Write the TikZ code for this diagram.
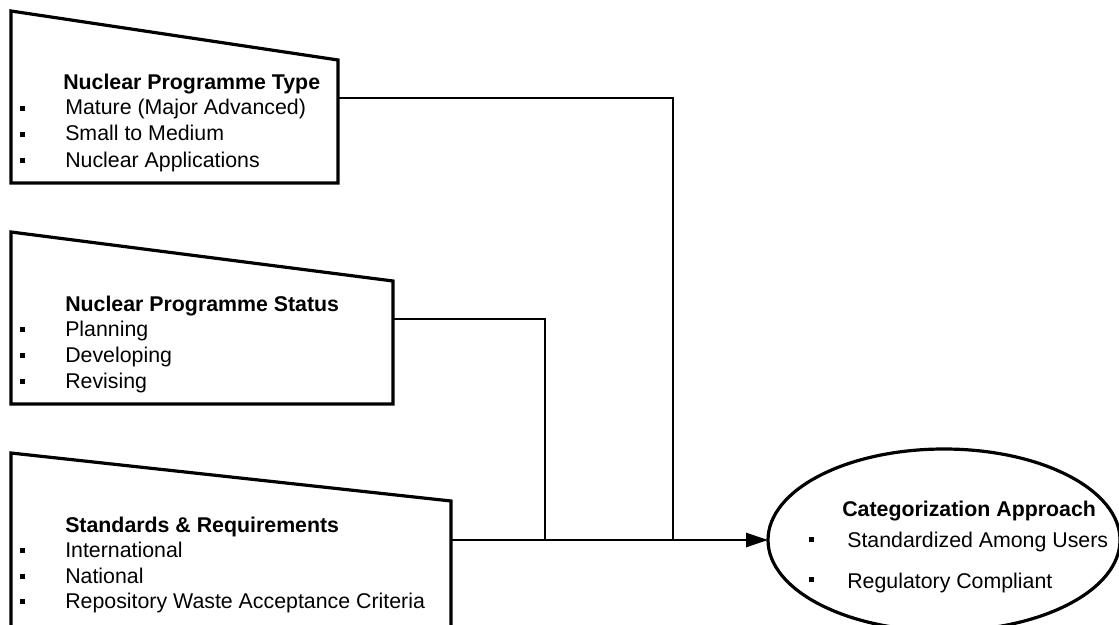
\documentclass[tikz,border=0pt]{standalone}
\usepackage{fontspec}
\setmainfont{Liberation Sans}
\usetikzlibrary{shapes.geometric,arrows.meta}
\begin{document}
\begin{tikzpicture}[x=0.75pt,y=-0.75pt,
  box/.style={draw,line width=2.4pt,line join=miter},
  conn/.style={draw,line width=2.2pt},
  ttl/.style={anchor=base west,inner sep=0,font=\fontsize{16}{19}\selectfont\bfseries},
  itm/.style={anchor=base west,inner sep=0,font=\fontsize{16}{19}\selectfont},
  bul/.style={fill,inner sep=0,minimum width=3.6pt,minimum height=3.6pt},
  ebul/.style={fill,inner sep=0,minimum width=4pt,minimum height=3.8pt},
]
\useasboundingbox (0,0) rectangle (1119,624);

% Box 1
\draw[box] (11,11) -- (338,60) -- (338,183) -- (11,183) -- cycle;
\coordinate (b1) at (338,98);
\node[ttl] (t1) at (63,90) {Nuclear Programme Type};
\node[itm] (i11) at (65,115) {Mature (Major Advanced)};
\node[itm] (i12) at (65,141) {Small to Medium};
\node[itm] (i13) at (65,167) {Nuclear Applications};
\node[bul] (d11) at (22.5,108.5) {};
\node[bul] (d12) at (22.5,134.5) {};
\node[bul] (d13) at (22.5,160.5) {};

% Box 2
\draw[box] (11,232) -- (393,281) -- (393,404) -- (11,404) -- cycle;
\coordinate (b2) at (393,319);
\node[ttl] (t2) at (65,311) {Nuclear Programme Status};
\node[itm] (i21) at (65,336) {Planning};
\node[itm] (i22) at (65,362) {Developing};
\node[itm] (i23) at (65,388) {Revising};
\node[bul] (d21) at (22.5,329.5) {};
\node[bul] (d22) at (22.5,355.5) {};
\node[bul] (d23) at (22.5,381.5) {};

% Box 3
\draw[box] (11,453) -- (451,501) -- (451,627) -- (11,627) -- cycle;
\coordinate (b3) at (451,540);
\node[ttl] (t3) at (65,532) {Standards \& Requirements};
\node[itm] (i31) at (65,557) {International};
\node[itm] (i32) at (65,583) {National};
\node[itm] (i33) at (65,608) {Repository Waste Acceptance Criteria};
\node[bul] (d31) at (22.5,550.5) {};
\node[bul] (d32) at (22.5,576.5) {};
\node[bul] (d33) at (22.5,601.5) {};

% Ellipse
\node[draw,ellipse,line width=2.4pt,inner sep=0,outer sep=0,
      minimum width=264pt,minimum height=136.5pt] (cat) at (944,540) {};
\node[ttl] (ct) at (842,516) {Categorization Approach};
\node[itm] (c1) at (847,547) {Standardized Among Users};
\node[itm] (c2) at (847,588) {Regulatory Compliant};
\node[ebul] (e1) at (811.5,539.5) {};
\node[ebul] (e2) at (811.5,579.5) {};

% Connectors
\coordinate (j1) at (673,540);
\coordinate (j2) at (545,540);
\draw[conn] (b1) -| (j1);
\draw[conn] (b2) -| (j2);
\draw[conn,-{Triangle[length=16.5pt,width=10.5pt]}] (b3) -- (cat.west);
\end{tikzpicture}
\end{document}
